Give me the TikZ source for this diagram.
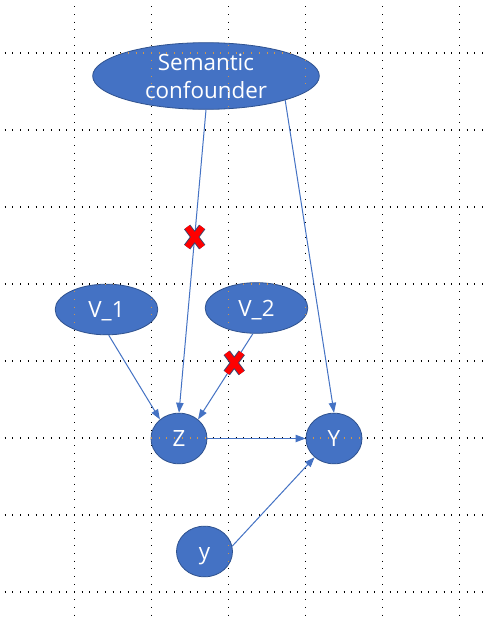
\documentclass[tikz,border=0pt]{standalone}
\usepackage{fontspec}
\setmainfont{Open Sans}
\usetikzlibrary{shapes.geometric,arrows.meta}
\definecolor{nodeblue}{HTML}{4472C4}
\definecolor{nodeedge}{HTML}{2F528F}
\definecolor{gridorange}{RGB}{205,150,80}
\definecolor{crossedge}{RGB}{60,70,110}
\newcommand\mygrid[1]{%
  \foreach \gx in {74.5,151.5,228.5,305.5,382.5,459.5}
    \draw[#1,line width=0.8pt,dash pattern=on 0.8pt off 4.975pt] (\gx,6.3) -- (\gx,621);
  \foreach \gy in {53,130,207,284,361,438,515,592}
    \draw[#1,line width=0.8pt,dash pattern=on 0.8pt off 4.975pt] (4.7,\gy) -- (484,\gy);
}
\tikzset{
  blob/.style={ellipse, draw=nodeedge, line width=0.6pt, fill=nodeblue, text=white,
    inner sep=0pt, font=\fontsize{16.8}{21}\selectfont, text height=12pt, text depth=0pt},
  smallblob/.style={blob, minimum width=42pt, minimum height=38pt},
  midblob/.style={blob, minimum width=77pt, minimum height=38pt},
  link/.style={draw=nodeblue, line width=0.75pt, -{Triangle[length=7.5pt,width=5.5pt]}},
  xmark/.pic={
    \draw[crossedge, line width=5.8pt] (-7.5,-10) -- (7.5,10) (-7.5,10) -- (7.5,-10);
    \draw[red, line width=4.4pt] (-7.5,-10) -- (7.5,10) (-7.5,10) -- (7.5,-10);
  }
}
\begin{document}
\begin{tikzpicture}[x=0.75pt,y=-0.75pt]
\useasboundingbox (0,0) rectangle (484,621);
\fill[white] (0,0) rectangle (484,621);
\mygrid{black}

\node[blob, align=center, text height={}, text depth={}, inner sep=-10pt,
      minimum width=170pt, minimum height=50pt] (sc) at (206,76) {Semantic\\confounder};
\node[midblob] (v1) at (106.5,309.5) {V\_1};
\node[midblob] (v2) at (256.5,308) {V\_2};
\node[smallblob] (z) at (179,438.5) {Z};
\node[smallblob] (bigY) at (334,438.5) {Y};
\node[smallblob] (smally) at (204.5,551.5) {y};

\begin{scope}
  \clip (206,75) ellipse [x radius=85pt, y radius=25pt]
        (106.5,309.5) ellipse [x radius=38.5pt, y radius=19pt]
        (256.5,308) ellipse [x radius=38.5pt, y radius=19pt]
        (179,438.5) ellipse [x radius=21pt, y radius=19pt]
        (334,438.5) ellipse [x radius=21pt, y radius=19pt]
        (204.5,551.5) ellipse [x radius=21pt, y radius=19pt];
  \mygrid{gridorange}
\end{scope}

\draw[link] (sc.south) -- coordinate[pos=0.42] (c1) (z.north);
\draw[link] (sc.-17) -- (bigY.north);
\draw[link] (v1.-85) -- (z.135);
\draw[link] (v2.-98) -- coordinate[pos=0.34] (c2) (z.45);
\draw[link] (z) -- (bigY);
\draw[link] (smally.11) -- (bigY.-136);

\pic at (c1) {xmark};
\pic at (c2) {xmark};
\end{tikzpicture}
\end{document}
